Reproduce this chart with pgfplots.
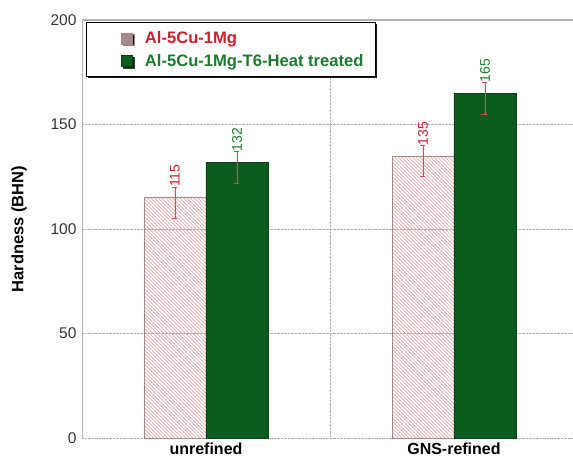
\documentclass[border=0pt]{standalone}
\usepackage{pgfplots}
\pgfplotsset{compat=1.18}
\usepackage{fontspec}
\setmainfont{Liberation Sans}
\usetikzlibrary{patterns,shadows}
\definecolor{dkgreen}{HTML}{0B5C1E}
\definecolor{lblred}{HTML}{C8202F}
\definecolor{lblgreen}{HTML}{1E7A30}
\definecolor{hatchred}{HTML}{DE9A9A}
\definecolor{errred}{HTML}{D84A5A}
\pgfdeclarepatternformonly{hatchnw}{\pgfqpoint{-1pt}{-1pt}}{\pgfqpoint{5pt}{5pt}}{\pgfqpoint{3.6pt}{3.6pt}}{
  \pgfsetlinewidth{0.55pt}
  \pgfpathmoveto{\pgfqpoint{-0.1pt}{3.7pt}}
  \pgfpathlineto{\pgfqpoint{3.7pt}{-0.1pt}}
  \pgfusepath{stroke}}
\begin{document}
\begin{tikzpicture}
\useasboundingbox (0,0) rectangle (573pt,461pt);
\begin{axis}[
  at={(82pt,23pt)}, anchor=south west,
  scale only axis, width=491pt, height=418pt,
  xmin=-0.5, xmax=1.48, ymin=0, ymax=200,
  enlargelimits=false,
  ybar=0pt, bar width=0.25,
  xtick={0,1}, xticklabels={unrefined,GNS-refined},
  ytick={0,50,100,150,200},
  major tick length=0pt,
  /pgf/number format/assume math mode=true,
  ymajorgrids, grid style={densely dotted, gray!65, line width=0.8pt},
  extra x ticks={0.5}, extra x tick labels={}, extra x tick style={grid=major},
  axis line style={draw=none},
  y tick label style={font=\fontsize{15.5}{17}\selectfont, color=black!80, xshift=-2pt},
  x tick label style={font=\bfseries\fontsize{16}{18}\selectfont, yshift=-1pt},
  ylabel={Hardness (BHN)},
  every axis y label/.style={at={(axis description cs:-0.128,0.5)}, rotate=90, anchor=center,
    font=\bfseries\fontsize{16.5}{18}\selectfont},
  legend style={at={(axis description cs:0.008,0.995)}, anchor=north west,
    draw=black, line width=0.8pt, fill=white,
    drop shadow={shadow xshift=1.8pt, shadow yshift=-1.8pt, opacity=0.9, fill=black},
    font=\bfseries\fontsize{16.6}{19}\selectfont, inner xsep=10pt, inner ysep=7pt,
    cells={anchor=west}, row sep=5pt},
]
\addplot[draw=gray!60!hatchred, line width=0.6pt,
  pattern=hatchnw, pattern color=hatchred,
  legend image code/.code={\path (-25pt,0pt) (21pt,0pt);
    \fill[white] (0pt,-5.5pt) rectangle (11pt,5.5pt);
    \draw[hatchred, line width=0.5pt]
      (0pt,-2.75pt) -- (2.75pt,-5.5pt)
      (0pt,0pt) -- (5.5pt,-5.5pt)
      (0pt,2.75pt) -- (8.25pt,-5.5pt)
      (0pt,5.5pt) -- (11pt,-5.5pt)
      (2.75pt,5.5pt) -- (11pt,-2.75pt)
      (5.5pt,5.5pt) -- (11pt,0pt)
      (8.25pt,5.5pt) -- (11pt,2.75pt);
    \draw[gray!60!hatchred, line width=0.5pt] (0pt,-5.5pt) rectangle (11pt,5.5pt);},
  error bars/.cd, y dir=both, y explicit,
  error bar style={color=errred, line width=0.7pt},
  error mark options={rotate=90, mark size=2.5pt, color=errred, line width=0.7pt},
  ]
  coordinates {(0,115) += (0,5) -= (0,10) (1,135) += (0,5) -= (0,10)};
\addlegendentry{\textcolor{lblred}{Al-5Cu-1Mg}}
\addplot[draw=dkgreen!70!black, line width=0.6pt, fill=dkgreen,
  legend image code/.code={\path (-25pt,0pt) (21pt,0pt);
    \draw[fill=dkgreen, draw=dkgreen!70!black, line width=0.5pt] (0pt,-5.5pt) rectangle (11pt,5.5pt);},
  error bars/.cd, y dir=both, y explicit,
  error bar style={color=errred, line width=0.7pt},
  error mark options={rotate=90, mark size=2.5pt, color=errred, line width=0.7pt},
  ]
  coordinates {(0,132) += (0,5) -= (0,10) (1,165) += (0,5) -= (0,10)};
\addlegendentry{\textcolor{lblgreen}{Al-5Cu-1Mg-T6-Heat treated}}
% value labels
\addplot[ybar, bar shift=-0.125, draw=none, fill=none, forget plot,
  nodes near coords, point meta=explicit,
  nodes near coords style={rotate=90, anchor=west, inner xsep=10.5pt, inner ysep=0pt,
    color=lblred, font=\fontsize{14}{15}\selectfont}]
  coordinates {(0,115) [115] (1,135) [135]};
\addplot[ybar, bar shift=0.125, draw=none, fill=none, forget plot,
  nodes near coords, point meta=explicit,
  nodes near coords style={rotate=90, anchor=west, inner xsep=10.5pt, inner ysep=0pt,
    color=lblgreen, font=\fontsize{14}{15}\selectfont}]
  coordinates {(0,132) [132] (1,165) [165]};
\draw[gray!60, line width=1.2pt] (axis cs:-0.5,0) -- (axis cs:-0.5,200) -- (axis cs:1.48,200);
\end{axis}
\end{tikzpicture}
\end{document}
